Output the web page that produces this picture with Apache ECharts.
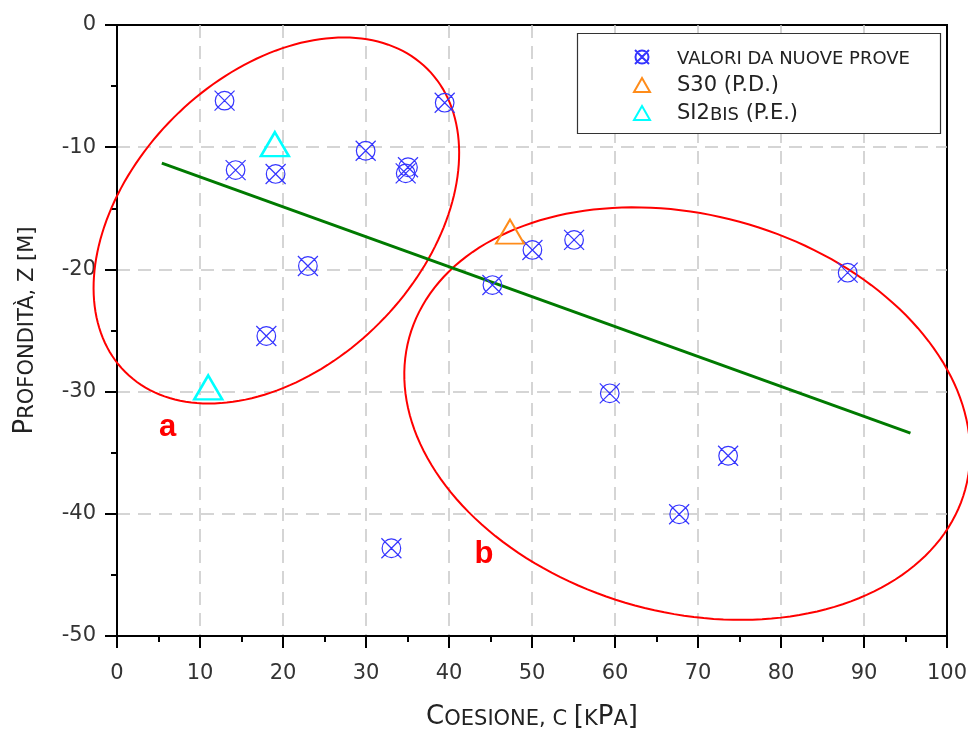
<!DOCTYPE html>
<html><head><meta charset="utf-8">
<script src="https://cdn.jsdelivr.net/npm/echarts@6/dist/echarts.min.js"></script>
<style>html,body{margin:0;padding:0;background:#fff}#chart{width:968px;height:731px}</style>
</head><body><div id="chart"></div>
<script>
// ---- data ----
const nuoveName = 'VALORI DA NUOVE PROVE';
const nuoveX = [12.96, 14.29, 19.11, 23.0, 17.99, 29.96, 34.78, 35.06, 39.48, 45.23, 50.05, 55.07, 59.37, 73.63, 67.73, 88.03, 33.06];
const nuoveY = [-6.19, -11.87, -12.19, -19.72, -25.45, -10.29, -12.14, -11.64, -6.36, -21.28, -18.41, -17.59, -30.14, -35.25, -40.04, -20.27, -42.82];
const s30Name = 'S30 (P.D.)';
const s30X = [47.35];
const s30Y = [-16.91];
const si2Name = 'SI2BIS (P.E.)';
const si2X = [19.02, 10.99];
const si2Y = [-9.75, -29.66];
const trendX = [5.4, 95.6];
const trendY = [-11.3, -33.4];
// ellipses: centre and two conjugate semi-axes (data units)
const ellipseCX = [19.2, 68.7];
const ellipseCY = [-16.0, -31.8];
const ellipseU = [[18.2, 12.4], [33.5, -6.2]];
const ellipseV = [[12.4, -8.4], [-6.3, -15.7]];
const groupNames = ['a', 'b'];
const groupX = [6.1, 44.2];
const groupY = [-32.9, -43.3];
const xTickValues = [0, 10, 20, 30, 40, 50, 60, 70, 80, 90, 100];
const yTickValues = [0, -10, -20, -30, -40, -50];

const zip = (a, b) => a.map((v, i) => [v, b[i]]);
const FONT = 'DejaVu Sans';
const BLUE = '#3535ff';
const markerPath = 'path://M0 0L20 20M20 0L0 20M19.3 10A9.3 9.3 0 1 1 0.7 10A9.3 9.3 0 1 1 19.3 10';
const xMin = xTickValues[0], xMax = xTickValues[xTickValues.length - 1];
const yMin = yTickValues[yTickValues.length - 1], yMax = yTickValues[0];

const chart = echarts.init(document.getElementById('chart'), null, {renderer: 'canvas'});
const gridBox = {left: 117, right: 21, top: 25, bottom: 95, containLabel: false, outerBoundsMode: 'none'};
const nameRich = {
  B: {fontFamily: FONT, fontSize: 26, color: '#222', verticalAlign: 'bottom', lineHeight: 30},
  s: {fontFamily: FONT, fontSize: 21, color: '#222', verticalAlign: 'bottom', lineHeight: 28}
};
const tickOnly = (len) => ({
  axisLine: {show: false, onZero: false},
  axisTick: {inside: false, length: len, lineStyle: {color: '#000', width: 2}},
  axisLabel: {show: false},
  splitLine: {show: false}
});
chart.setOption({
  animation: false,
  backgroundColor: '#fff',
  grid: [
    Object.assign({show: true, borderColor: '#000', borderWidth: 2}, gridBox),
    Object.assign({show: false}, gridBox)
  ],
  xAxis: [{
    type: 'value', gridIndex: 0, min: xMin, max: xMax, interval: 10,
    axisLine: {onZero: false, lineStyle: {color: '#000', width: 2}},
    axisTick: {inside: false, length: 12, lineStyle: {color: '#000', width: 2}},
    axisLabel: {margin: 27, fontSize: 21, color: '#333', fontFamily: FONT},
    splitLine: {show: true, showMinLine: false, showMaxLine: false, lineStyle: {type: [13, 8], color: '#c8c8c8', width: 1.5}},
    name: '{B|C}{s|OESIONE, C }{B|[}{s|K}{B|P}{s|A}{B|]}',
    nameLocation: 'middle', nameGap: 64,
    nameTextStyle: {rich: nameRich}
  }, Object.assign({type: 'value', gridIndex: 1, min: xMin, max: xMax, interval: 5}, tickOnly(6))],
  yAxis: [{
    type: 'value', gridIndex: 0, min: yMin, max: yMax, interval: 10,
    axisLine: {onZero: false, lineStyle: {color: '#000', width: 2}},
    axisTick: {inside: false, length: 12, lineStyle: {color: '#000', width: 2}},
    axisLabel: {margin: 21, fontSize: 21, color: '#333', fontFamily: FONT},
    splitLine: {show: true, showMinLine: false, showMaxLine: false, lineStyle: {type: [13, 8], color: '#c8c8c8', width: 1.5}},
    name: '{B|P}{s|ROFONDITÀ, Z [M]}',
    nameLocation: 'middle', nameGap: 79, nameRotate: 90,
    nameTextStyle: {rich: nameRich}
  }, Object.assign({type: 'value', gridIndex: 1, min: yMin, max: yMax, interval: 5}, tickOnly(6))],
  legend: {
    orient: 'vertical', left: 633, top: 49, padding: 0, itemGap: 7,
    itemWidth: 16, itemHeight: 14, selectedMode: false, z: 10,
    data: [
      {name: nuoveName, icon: markerPath},
      {name: s30Name, icon: 'triangle'},
      {name: si2Name, icon: 'triangle'}
    ],
    formatter: function (n) {
      if (n === nuoveName) return '{m|' + n + '}';
      if (n === si2Name) return '{L|SI2}{m|BIS}{L| (P.E.)}';
      return '{L|' + n + '}';
    },
    textStyle: {
      padding: [0, 0, 0, 22],
      rich: {
        m: {fontFamily: FONT, fontSize: 18, color: '#222', lineHeight: 22, verticalAlign: 'bottom'},
        L: {fontFamily: FONT, fontSize: 21, color: '#222', lineHeight: 22, verticalAlign: 'bottom'}
      }
    }
  },
  graphic: [{
    type: 'rect', z: 3,
    shape: {x: 577.5, y: 33.5, width: 363, height: 100},
    style: {fill: '#fff', stroke: '#333', lineWidth: 1.2}
  }],
  series: [
    {
      type: 'custom', name: 'ellipses', clip: false, z: 3, silent: true,
      data: ellipseCX.map((cx, i) => [cx, ellipseCY[i], ellipseU[i][0], ellipseU[i][1], ellipseV[i][0], ellipseV[i][1]]),
      encode: {x: 0, y: 1},
      renderItem: function (params, api) {
        const cx = api.value(0), cy = api.value(1);
        const ux = api.value(2), uy = api.value(3), vx = api.value(4), vy = api.value(5);
        const pts = [];
        for (let k = 0; k < 180; k++) {
          const t = k / 180 * Math.PI * 2;
          pts.push(api.coord([cx + ux * Math.cos(t) + vx * Math.sin(t), cy + uy * Math.cos(t) + vy * Math.sin(t)]));
        }
        return {type: 'polygon', shape: {points: pts}, style: {fill: 'none', stroke: '#ff0000', lineWidth: 2}};
      }
    },
    {
      type: 'line', name: 'trend', data: zip(trendX, trendY), symbol: 'none', z: 4,
      lineStyle: {color: '#007a00', width: 3}, silent: true
    },
    {
      type: 'scatter', name: nuoveName, data: zip(nuoveX, nuoveY), z: 5,
      symbol: markerPath, symbolSize: 20,
      itemStyle: {color: 'rgba(0,0,0,0)', borderColor: BLUE, borderWidth: 1.2, opacity: 1}
    },
    {
      type: 'scatter', name: s30Name, data: zip(s30X, s30Y), z: 5,
      symbol: 'triangle', symbolSize: [28, 24],
      itemStyle: {color: 'rgba(0,0,0,0)', borderColor: '#ff8c1a', borderWidth: 2, opacity: 1}
    },
    {
      type: 'scatter', name: si2Name, data: zip(si2X, si2Y), z: 5,
      symbol: 'triangle', symbolSize: [28, 24],
      itemStyle: {color: 'rgba(0,0,0,0)', borderColor: '#00ffff', borderWidth: 2.5, opacity: 1}
    },
    {
      type: 'scatter', name: 'groups', z: 6, silent: true,
      data: groupNames.map((n, i) => ({name: n, value: [groupX[i], groupY[i]]})),
      symbolSize: 1, itemStyle: {color: 'rgba(0,0,0,0)', opacity: 1},
      label: {show: true, position: 'inside', formatter: '{b}', color: '#ff0000', fontSize: 31, fontWeight: 'bold', fontFamily: 'Liberation Sans'}
    }
  ]
});
</script></body></html>
